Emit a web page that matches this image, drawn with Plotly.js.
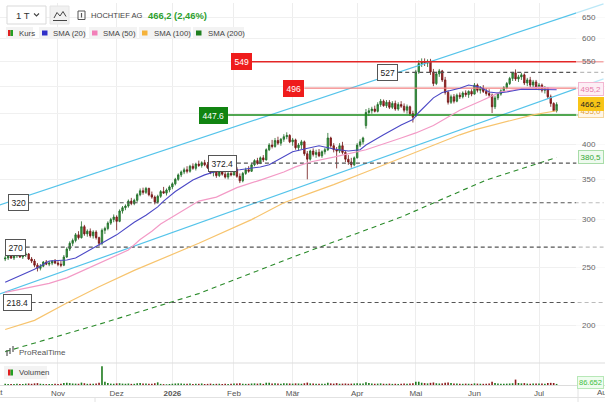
<!DOCTYPE html>
<html><head><meta charset="utf-8">
<script src="https://cdn.plot.ly/plotly-3.0.1.min.js"></script>
<style>html,body{margin:0;padding:0;overflow:hidden;background:#fff}#chart{width:605px;height:402px}</style>
</head><body><div id="chart"></div>
<script>
// ---------- calendar (Xetra trading days) ----------
const firstDay = '2025-10-08', lastDay = '2026-07-09';
const holidays = ['2025-12-24','2025-12-25','2025-12-26','2025-12-31','2026-01-01','2026-04-03','2026-04-06','2026-05-01'];
function tradingDays(a, b) {
  const out = []; const d = new Date(a + 'T00:00:00Z'); const e = new Date(b + 'T00:00:00Z');
  while (d <= e) { const wd = d.getUTCDay(); const s = d.toISOString().slice(0, 10);
    if (wd !== 0 && wd !== 6 && !holidays.includes(s)) out.push(s); d.setUTCDate(d.getUTCDate() + 1); }
  return out;
}
const dates = tradingDays(firstDay, lastDay);

// ---------- daily OHLC (EUR) ----------
const open = [
 258,259,261,259,261,262,260,262,263,258,256,252,249,251,255,253,254,256,
 254,253,252,260,268,274,277,283,280,292,284,287,282,286,280,274,288,290,296,300,
 303,298,310,314,316,322,319,323,330,335,333,338,330,327,321,328,334,332,336,
 340,344,350,356,360,363,361,368,365,371,369,373,370,366,359,361,355,360,357,353,358,
 356,364,354,348,358,363,361,370,376,372,380,377,392,399,397,406,402,408,412,414,
 404,407,395,399,404,386,378,390,385,388,383,389,392,410,398,392,390,398,388,378,374,370,
 380,399,404,430,452,455,458,454,466,472,464,470,461,468,458,466,463,456,462,450,
 446,528,545,548,546,550,528,505,524,530,512,488,470,480,472,483,480,487,484,490,
 485,502,492,496,490,486,483,462,478,485,491,497,505,515,526,514,518,522,506,512,502,508,
 498,502,492,496,480,468,455];
const high = [
 261,262,263,262,264,264,263,265,264,260,258,254,253,256,257,256,257,258,
 256,256,262,270,276,279,285,287,298,294,289,290,288,288,281,290,292,298,302,306,
 305,312,316,318,324,326,325,332,338,339,340,339,334,329,330,336,340,338,342,
 346,352,358,362,366,368,370,372,373,376,375,377,374,369,364,363,362,364,362,360,363,
 366,367,358,360,366,368,372,378,380,382,384,394,402,407,410,412,410,416,419,416,
 410,409,402,407,406,390,392,394,392,393,391,395,418,412,402,396,402,404,390,384,380,382,
 402,408,412,458,460,462,464,470,476,475,474,474,472,473,470,472,468,466,464,455,
 532,552,556,556,554,555,534,528,534,532,518,492,484,485,486,488,490,492,492,494,
 506,505,500,502,496,494,486,482,488,494,500,508,518,528,533,522,526,525,516,518,512,512,
 506,505,500,498,484,470,470];
const low = [
 256,257,258,257,259,259,258,260,257,254,250,246,247,250,252,251,252,253,
 251,250,251,259,266,271,275,278,279,282,281,280,279,278,271,272,284,288,294,297,
 288,297,307,311,314,317,317,321,328,330,331,328,325,318,319,326,331,329,333,
 337,342,348,353,357,358,359,363,362,367,366,368,364,357,354,352,353,355,351,350,354,
 355,352,345,346,356,359,360,368,370,371,374,376,390,394,395,399,398,404,408,402,
 398,392,390,393,383,350,376,382,380,381,380,385,390,395,388,365,387,385,374,370,366,368,
 379,396,400,425,446,450,452,452,462,462,460,458,458,455,455,460,452,450,446,435,
 444,524,538,540,538,522,500,502,518,508,484,466,467,468,470,476,477,480,478,481,
 484,488,486,487,482,480,451,458,474,482,488,494,502,510,510,508,512,502,500,498,496,494,
 492,488,486,476,462,453,452];
const close = [
 259,261,259,261,262,260,262,263,258,256,252,249,251,255,253,254,256,254,
 253,252,260,268,274,277,283,280,292,284,287,282,286,280,274,288,290,296,300,303,
 298,310,314,316,322,319,323,330,335,333,338,330,327,321,328,334,332,336,340,
 344,350,356,360,363,361,368,365,371,369,373,370,366,359,361,355,360,357,353,358,356,
 364,354,348,358,363,361,370,376,372,380,377,392,399,397,406,402,408,412,414,404,
 407,395,399,404,386,378,390,385,388,383,389,392,410,398,392,390,398,388,378,374,370,380,
 399,404,410,452,455,458,454,466,472,464,470,461,468,458,466,463,456,462,450,444,
 528,545,548,546,550,528,505,524,530,512,488,470,480,472,483,480,487,484,490,485,
 502,492,496,490,486,483,462,478,485,491,497,505,515,526,514,518,522,506,512,502,508,498,
 502,492,496,480,468,455,466.2];
// volume in thousand shares
const volume = [
 95,80,70,85,90,75,80,110,120,95,130,150,100,85,70,80,75,90,
 85,90,160,180,150,120,110,100,190,140,95,100,90,120,170,1500,260,150,110,100,
 130,140,110,100,120,90,95,130,150,110,120,100,95,140,210,90,70,60,80,
 100,120,130,110,95,90,110,85,100,95,120,80,90,110,85,95,100,80,90,85,95,
 110,120,130,100,90,95,120,130,110,140,90,180,170,120,130,110,100,140,130,120,
 110,130,120,100,140,190,130,110,100,95,100,90,170,130,110,150,100,110,120,100,110,120,
 140,110,120,220,150,120,100,110,130,100,95,110,90,100,85,90,110,100,120,140,
 250,260,180,150,130,170,200,140,120,130,180,200,150,120,110,100,95,110,100,90,
 130,110,100,95,100,110,260,150,120,100,95,110,120,140,430,160,130,150,110,100,120,110,
 120,110,100,150,170,160,86.652];

// ---------- moving averages (read at sample dates) ----------
const sma20Dates = ['2025-10-08','2025-10-22','2025-10-29','2025-11-06','2025-11-11','2025-11-21','2025-12-01','2025-12-09','2025-12-15','2025-12-19','2025-12-23','2026-01-05','2026-01-13','2026-01-19','2026-01-23','2026-02-04','2026-02-13','2026-02-18','2026-02-24','2026-03-02','2026-03-06','2026-03-13','2026-03-20','2026-03-27','2026-04-02','2026-04-08','2026-04-16','2026-04-24','2026-04-30','2026-05-05','2026-05-12','2026-05-15','2026-05-25','2026-05-28','2026-06-03','2026-06-08','2026-06-11','2026-06-16','2026-06-23','2026-07-01','2026-07-09'];
const sma20 = [236,248,256,257,259,272,283,297,305,315,322,334,349,356,361,363,367,370,380,389,393,398,393,390,392,399,415,431,440,452,478,488,496,502,498,489,487,489,494,494,493];
const sma50Dates = ['2025-10-08','2025-10-20','2025-10-29','2025-11-06','2025-11-21','2025-12-05','2025-12-11','2025-12-17','2025-12-22','2026-01-15','2026-01-23','2026-02-03','2026-02-13','2026-02-25','2026-03-03','2026-03-10','2026-03-20','2026-04-08','2026-04-24','2026-05-04','2026-05-12','2026-05-25','2026-06-03','2026-06-12','2026-06-23','2026-07-01','2026-07-09'];
const sma50 = [227,231,235,240,254,267,278,287,295,322,327,339,349,360,367,374,381,392,410,418,430,456,472,489,495,498,495.2];
const sma100Dates = ['2025-10-08','2025-10-22','2025-11-06','2025-11-21','2025-12-09','2025-12-29','2026-01-15','2026-02-10','2026-02-25','2026-03-10','2026-03-20','2026-04-08','2026-04-24','2026-05-12','2026-05-25','2026-06-01','2026-06-29','2026-07-09'];
const sma100 = [197,204,218,232,247,260,274,300,320,332,343,360,380,399,415,423,448,455.0];
const sma200Dates = ['2025-10-08','2025-11-21','2026-01-15','2026-03-04','2026-04-24','2026-06-05','2026-07-09'];
const sma200 = [181,201,226,262,303,349,380.5];

// ---------- drawn objects ----------
const channelDates = ['2025-10-06','2026-07-31'];
const channelUpper = [317, 685];
const channelLower = [225.5, 514];
const levelValues = [549, 496, 447.6, 527, 372.4, 320, 270, 218.4];
const levelLabels = ['549','496','447.6','527','372.4','320','270','218.4'];
const levelStarts = ['2026-02-10','2026-03-06','2026-01-29','2026-04-23','2026-02-03','2025-10-20','2025-10-17','2025-10-21'];
const levelEnd = '2026-07-31';

// ---------- axis labels / tags ----------
const monthTicks = ['2025-11-03','2025-12-01','2026-01-02','2026-02-02','2026-03-02','2026-04-01','2026-05-04','2026-06-01','2026-07-01'];
const monthLabels = ['Nov','Dez','<b>2026</b>','Feb','Mär','Apr','Mai','Jun','Jul'];
const priceTicks = [200,250,300,350,400,450,500,550,600,650];
const priceTickLabels = [650,600,550,400,350,300,250,200];
const tagValues = [495.2, 455.0, 466.2, 380.5];
const tagTexts = ['495,2','455,0','466,2','380,5'];
const lastVolumeText = '86.652';
const headerName = 'HOCHTIEF AG', headerQuote = '466,2 (2,46%)';
const legendNames = ['Kurs','SMA (20)','SMA (50)','SMA (100)','SMA (200)'];

// ---------- styles ----------
const FONT = 'Liberation Sans, Arial, sans-serif';
const C = {up:'#3a9e44', upLine:'#1f6b27', dn:'#ad2727', dnLine:'#6e1414',
  s20:'#4b48c6', s50:'#f39ac6', s100:'#f7c46e', s200:'#2a8a2a', chan:'#55c4ea'};
const levelStyle = [
  {c:'#e32626', w:1.6, d:'solid', bg:'#ef1c1c', fg:'#fff', bd:'#ef1c1c'},
  {c:'#f28080', w:1.3, d:'solid', bg:'#ef1c1c', fg:'#fff', bd:'#ef1c1c'},
  {c:'#178a17', w:1.6, d:'solid', bg:'#118411', fg:'#fff', bd:'#118411'},
  {c:'#555', w:1.1, d:'4px,3px', bg:'#fff', fg:'#222', bd:'#555'},
  {c:'#555', w:1.1, d:'4px,3px', bg:'#fff', fg:'#222', bd:'#555'},
  {c:'#555', w:1.1, d:'4px,3px', bg:'#fff', fg:'#222', bd:'#555'},
  {c:'#555', w:1.1, d:'4px,3px', bg:'#fff', fg:'#222', bd:'#555'},
  {c:'#555', w:1.1, d:'4px,3px', bg:'#fff', fg:'#222', bd:'#555'}];
const tagStyle = [
  {fg:'#e67aa9', bg:'#fdeef5', bd:'#f3b6d2'},
  {fg:'#e2a23a', bg:'#fff6e6', bd:'#f5d59b'},
  {fg:'#222', bg:'#f8c416', bd:'#f8c416'},
  {fg:'#35a835', bg:'#eefaee', bd:'#a8dca8'}];

const W = 605, H = 402, TOP = 3, BOT = 385, SEP = 363;
const px = x => x / W;
const py = y => (BOT - y) / (BOT - TOP);
const Y0 = 1710, YK = 261.3; // price panel pixel mapping (log scale)
const logRange = [(Y0 - SEP) / YK / Math.LN10, (Y0 - TOP) / YK / Math.LN10];

const traces = [];
const line = (x, y, color, width, dash) => ({type:'scatter', mode:'lines', x, y, xaxis:'x', yaxis:'y',
  line:{color, width, dash: dash || 'solid'}, hoverinfo:'skip', showlegend:false});
traces.push(line(channelDates, channelUpper, C.chan, 1.2));
traces.push(line(channelDates, channelLower, C.chan, 1.2));
traces.push(line(sma200Dates, sma200, C.s200, 1.1, '5px,4px'));
levelValues.forEach((v, i) => { const s = levelStyle[i];
  traces.push(line([levelStarts[i], levelEnd], [v, v], s.c, s.w, s.d)); });
traces.push(line(sma100Dates, sma100, C.s100, 1.2));
traces.push(line(sma50Dates, sma50, C.s50, 1.2));
traces.push({type:'candlestick', x:dates, open, high, low, close, xaxis:'x', yaxis:'y',
  increasing:{line:{color:C.upLine, width:0.8}, fillcolor:C.up},
  decreasing:{line:{color:C.dnLine, width:0.8}, fillcolor:C.dn},
  whiskerwidth:0, hoverinfo:'skip', showlegend:false});
traces.push(line(sma20Dates, sma20, C.s20, 1.1));
traces.push({type:'bar', x:dates, y:volume, xaxis:'x', yaxis:'y2',
  marker:{color: close.map((c, i) => c >= open[i] ? '#1e7b1e' : '#8b1a1a'), line:{width:0}},
  hoverinfo:'skip', showlegend:false});

const shapes = [], ann = [];
const rect = (x0, y0, x1, y1, fill, lineColor, lw) => shapes.push({type:'rect', xref:'paper', yref:'paper',
  x0:px(x0), x1:px(x1), y0:py(y1), y1:py(y0), fillcolor:fill, line:{color:lineColor || fill, width: lw === undefined ? 0 : lw}, layer:'above'});
const seg = (pts, color, w) => shapes.push({type:'path', xref:'paper', yref:'paper', layer:'above',
  path: pts.map((p, i) => (i ? 'L' : 'M') + px(p[0]) + ',' + py(p[1])).join(' '), line:{color, width:w}});
const txt = (x, y, text, size, color, opts) => ann.push(Object.assign({xref:'paper', yref:'paper', x:px(x), y:py(y),
  text, showarrow:false, xanchor:'left', yanchor:'middle', font:{family:FONT, size, color}}, opts || {}));

// right fade area + separators
rect(576, TOP, 605, BOT, 'rgba(255,255,255,0.6)');
seg([[0, SEP], [605, SEP]], '#dddddd', 1);
seg([[0, 397.5], [605, 397.5]], '#e2e2e2', 1);
seg([[578, 385], [578, 402]], '#e2e2e2', 1);
seg([[95, 397.5], [95, 402]], '#e2e2e2', 1);

// header
rect(7, 6, 46, 24, '#ffffff', '#d9d9d9', 1);
txt(14, 15.5, '1 T', 9.5, '#333');
seg([[34, 13.5], [36.5, 16], [39, 13.5]], '#444', 1.1);
rect(50, 6, 69, 24, '#f1f1f1', '#e4e4e4', 1);
seg([[54, 18], [57, 12.5], [60, 16], [63, 11.5], [66, 16.5]], '#444', 1);
seg([[53, 20.5], [67, 20.5]], '#444', 1);
rect(78, 11, 85, 19.5, 'rgba(0,0,0,0)', '#555', 1);
seg([[81.5, 13], [81.5, 17.5]], '#555', 1.2);
txt(89, 15.5, headerName, 7.6, '#444');
txt(146, 15.5, '<b>' + headerQuote + '</b>', 9.4, '#2ea02e');

// legend chips
const chipX = [[6,33],[39,86],[89,137],[139,191],[193,244]];
const chipColor = [null, '#3030c8', '#f27fb8', '#f5b23a', '#1f7f1f'];
const chipText = [16.5, 51, 101, 152, 206];
legendNames.forEach((n, i) => {
  rect(chipX[i][0], 27, chipX[i][1], 39, '#f3f3f3');
  if (i === 0) { rect(8, 30, 10.5, 36, '#e02020'); rect(10.5, 30, 13, 36, '#22a022'); }
  else rect(chipX[i][0] + 3, 30.5, chipX[i][0] + 8.5, 35.5, chipColor[i]);
  txt(chipText[i], 33.2, n, 7.8, '#444');
});

// volume chip + watermark
rect(4, 366, 47, 379, '#f3f3f3');
rect(8, 369.5, 10.5, 375.5, '#e02020'); rect(10.5, 369.5, 13, 375.5, '#22a022');
txt(17, 372.6, 'Volumen', 7.8, '#444');
seg([[7, 350], [7, 356]], '#555', 1.2); seg([[10, 348], [10, 354]], '#555', 1.2); seg([[13, 346], [13, 352]], '#555', 1.2);
txt(17, 352.5, 'ProRealTime', 8, '#555');

// y tick labels
priceTickLabels.forEach(v => ann.push({xref:'paper', yref:'y', x:px(580), y:Math.log10(v), text:String(v),
  showarrow:false, xanchor:'left', yanchor:'middle', font:{family:FONT, size:8, color:'#666'}}));
// level labels
levelValues.forEach((v, i) => { const s = levelStyle[i];
  ann.push({xref:'x', yref:'y', x:levelStarts[i], y:Math.log10(v), text:levelLabels[i], showarrow:false,
    xanchor:'right', yanchor:'middle', bgcolor:s.bg, bordercolor:s.bd, borderwidth:1, borderpad:2.5,
    font:{family:FONT, size:8.5, color:s.fg}}); });
// right value tags
tagValues.forEach((v, i) => { const s = tagStyle[i];
  ann.push({xref:'paper', yref:'y', x:px(590.5), y:Math.log10(v), text:tagTexts[i], showarrow:false,
    xanchor:'center', yanchor:'middle', bgcolor:s.bg, bordercolor:s.bd, borderwidth:1, borderpad:1.5,
    font:{family:FONT, size:8, color:s.fg}}); });
ann.push({xref:'paper', yref:'paper', x:px(590.5), y:py(382.5), text:lastVolumeText, showarrow:false,
  xanchor:'center', yanchor:'middle', bgcolor:'#effcef', bordercolor:'#b7e8b7', borderwidth:1, borderpad:1,
  font:{family:FONT, size:7.5, color:'#44c044'}});
// cut-off month labels at the edges
txt(-4, 392.5, 'Okt', 8, '#555', {xanchor:'center'});
txt(604, 392.5, 'Aug', 8, '#555', {xanchor:'center'});

const layout = {
  width:W, height:H, margin:{l:0, r:0, t:TOP, b:H - BOT}, paper_bgcolor:'#fff', plot_bgcolor:'#fff',
  font:{family:FONT}, showlegend:false, bargap:0.45, dragmode:false,
  xaxis:{type:'date', range:['2025-10-06 05:30','2026-07-31 12:00'], anchor:'y2', domain:[0,1],
    rangebreaks:[{bounds:['sat','mon']}, {values:holidays}], rangeslider:{visible:false},
    tickmode:'array', tickvals:monthTicks, ticktext:monthLabels, ticks:'', ticklen:0,
    tickfont:{size:8, color:'#555', family:FONT}, showgrid:true, gridcolor:'#ededed', gridwidth:1,
    showline:true, linecolor:'#dcdcdc', linewidth:1, zeroline:false},
  yaxis:{type:'log', range:logRange, domain:[py(SEP), 1], anchor:'x', tickmode:'array', tickvals:priceTicks,
    showticklabels:false, ticks:'', showgrid:true, gridcolor:'#f0f0f0', zeroline:false, showline:false},
  yaxis2:{range:[0, 1750], domain:[0, py(SEP)], anchor:'x', showgrid:false, showticklabels:false, ticks:'',
    zeroline:false, showline:false},
  shapes, annotations:ann
};
Plotly.newPlot('chart', traces, layout, {staticPlot:true, displayModeBar:false});
</script></body></html>
